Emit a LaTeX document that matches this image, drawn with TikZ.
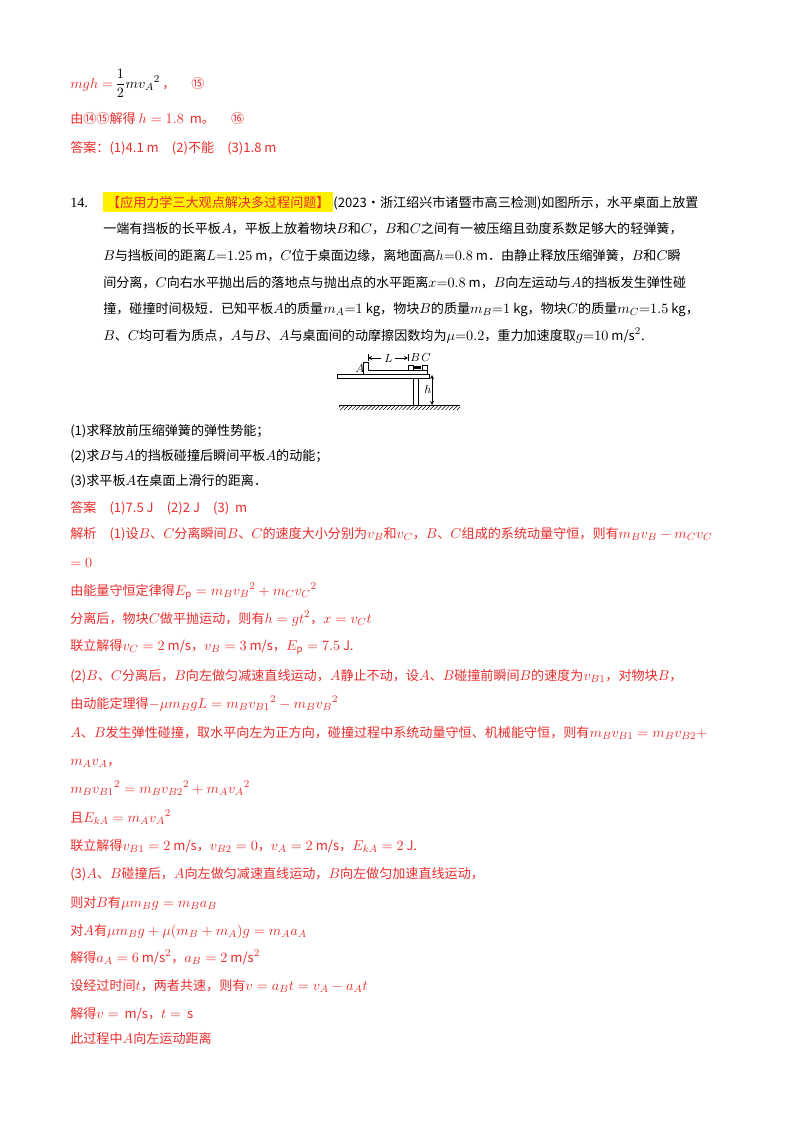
\documentclass[tikz,border=0pt,11pt]{standalone}
\usepackage{amsmath}
\usepackage{fontspec}
\setmainfont{Noto Sans CJK SC}[Scale=0.92]
\newfontfamily\tms{Liberation Serif}
\usetikzlibrary{patterns}
\definecolor{rd}{RGB}{235,45,45}
\definecolor{hl}{RGB}{255,240,0}
\begin{document}
\begin{tikzpicture}[x=0.77pt,y=-0.77pt,
  t/.style={anchor=base west,inner sep=0pt,font=\normalsize},
  r/.style={t,text=rd},
  fl/.style={anchor=base west,inner sep=0pt,font=\footnotesize}]
\useasboundingbox[fill=white] (0,0) rectangle (800,1132);
% top
\node[r] (a1) at (70,88) {$mgh=$\,\textcolor{black}{$\dfrac12 m v_A{}^2$}\,，\quad\ ⑮};
\node[r] (a2) at (70,123) {由⑭⑮解得 $h=1.8$\ \ m。\quad\ ⑯};
\node[r] (a3) at (70,152) {答案：(1)4.1 m\quad (2)不能\quad (3)1.8 m};
% problem
\node[t] (p0) at (70,207) {\tms 14.};
\node[t] (p1) at (103,207) {\colorbox{hl}{\textcolor{rd}{【应用力学三大观点解决多过程问题】}}(2023·浙江绍兴市诸暨市高三检测)如图所示，水平桌面上放置};
\node[t] (p2) at (103,233) {一端有挡板的长平板$A$，平板上放着物块$B$和$C$，$B$和$C$之间有一被压缩且劲度系数足够大的轻弹簧，};
\node[t] (p3) at (103,260) {$B$与挡板间的距离$L{=}1.25$ m，$C$位于桌面边缘，离地面高$h{=}0.8$ m．由静止释放压缩弹簧，$B$和$C$瞬};
\node[t] (p4) at (103,287) {间分离，$C$向右水平抛出后的落地点与抛出点的水平距离$x{=}0.8$ m，$B$向左运动与$A$的挡板发生弹性碰};
\node[t] (p5) at (103,313) {撞，碰撞时间极短．已知平板$A$的质量$m_A{=}1$ kg，物块$B$的质量$m_B{=}1$ kg，物块$C$的质量$m_C{=}1.5$ kg，};
\node[t] (p6) at (103,340) {$B$、$C$均可看为质点，$A$与$B$、$A$与桌面间的动摩擦因数均为$\mu{=}0.2$，重力加速度取$g{=}10$ m/s$^2$.};
% figure
\draw (339,405) -- (460,405);
\fill[pattern=north east lines] (339,405) rectangle (460,409);
\draw (337,374) rectangle (429,378);
\draw (413,378) -- (413,405) (418,378) -- (418,405);
\draw (363,374) -- (363,362) -- (368,362) -- (368,370) -- (427,370) -- (427,374);
\draw (408,365) rectangle (413,370);
\draw (422,365) rectangle (427,370);
\fill (414,366) rectangle (421,369);
\draw[<->,>=stealth] (432,375) -- (432,405);
\node[fl] (h) at (424,393) {$h$};
\draw (368,354) -- (368,361) (408,354) -- (408,361);
\draw[->,>=stealth] (381,358) -- (368,358);
\draw[->,>=stealth] (395,358) -- (408,358);
\node[fl] (L) at (384,362) {$L$};
\node[fl] (lA) at (355,372) {$A$};
\node[fl] (lB) at (410,361) {$B$};
\node[fl] (lC) at (421,361) {$C$};
% questions
\node[t] (q1) at (70,435) {(1)求释放前压缩弹簧的弹性势能；};
\node[t] (q2) at (70,460) {(2)求$B$与$A$的挡板碰撞后瞬间平板$A$的动能；};
\node[t] (q3) at (70,485) {(3)求平板$A$在桌面上滑行的距离．};
\node[r] (s0) at (70,512) {答案\quad (1)7.5 J\quad (2)2 J\quad (3)\ \ m};
\node[r] (s1) at (70,538) {解析\quad (1)设$B$、$C$分离瞬间$B$、$C$的速度大小分别为$v_B$和$v_C$，$B$、$C$组成的系统动量守恒，则有$m_Bv_B-m_Cv_C$};
\node[r] (s2) at (70,567) {$=0$};
\node[r] (s3) at (70,595) {由能量守恒定律得$E_{\rm p}=m_Bv_B{}^2+m_Cv_C{}^2$};
\node[r] (s4) at (70,623) {分离后，物块$C$做平抛运动，则有$h=gt^2$，$x=v_Ct$};
\node[r] (s5) at (70,650) {联立解得$v_C=2$ m/s，$v_B=3$ m/s，$E_{\rm p}=7.5$ J.};
\node[r] (s6) at (70,680) {(2)$B$、$C$分离后，$B$向左做匀减速直线运动，$A$静止不动，设$A$、$B$碰撞前瞬间$B$的速度为$v_{B1}$，对物块$B$，};
\node[r] (s7) at (70,708) {由动能定理得$-\mu m_BgL=m_Bv_{B1}{}^2-m_Bv_B{}^2$};
\node[r] (s8) at (70,737) {$A$、$B$发生弹性碰撞，取水平向左为正方向，碰撞过程中系统动量守恒、机械能守恒，则有$m_Bv_{B1}=m_Bv_{B2}+$};
\node[r] (s9) at (70,765) {$m_Av_A$，};
\node[r] (s10) at (70,793) {$m_Bv_{B1}{}^2=m_Bv_{B2}{}^2+m_Av_A{}^2$};
\node[r] (s11) at (70,822) {且$E_{kA}=m_Av_A{}^2$};
\node[r] (s12) at (70,850) {联立解得$v_{B1}=2$ m/s，$v_{B2}=0$，$v_A=2$ m/s，$E_{kA}=2$ J.};
\node[r] (s13) at (70,878) {(3)$A$、$B$碰撞后，$A$向左做匀减速直线运动，$B$向左做匀加速直线运动，};
\node[r] (s14) at (70,907) {则对$B$有$\mu m_Bg=m_Ba_B$};
\node[r] (s15) at (70,935) {对$A$有$\mu m_Bg+\mu(m_B+m_A)g=m_Aa_A$};
\node[r] (s16) at (70,962) {解得$a_A=6$ m/s$^2$，$a_B=2$ m/s$^2$};
\node[r] (s17) at (70,990) {设经过时间$t$，两者共速，则有$v=a_Bt=v_A-a_At$};
\node[r] (s18) at (70,1018) {解得$v=$\ \ m/s，$t=$\ \ s};
\node[r] (s19) at (70,1043) {此过程中$A$向左运动距离};
\end{tikzpicture}
\end{document}
